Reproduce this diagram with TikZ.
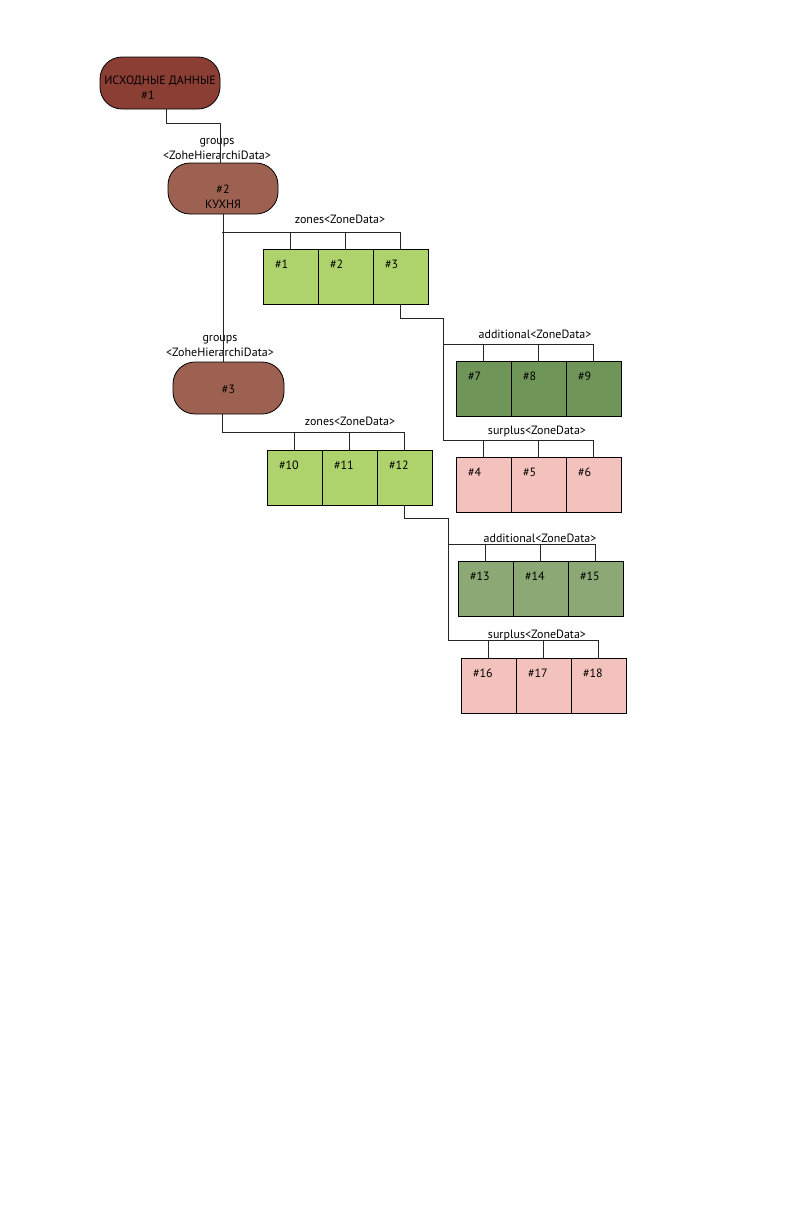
\documentclass[tikz,border=0pt]{standalone}
\usepackage{fontspec}
\setmainfont{PT Sans}
\usetikzlibrary{positioning,calc}
\definecolor{srcbrown}{HTML}{8B3E33}
\definecolor{grpbrown}{HTML}{9C6150}
\definecolor{zonegreen}{HTML}{AED36C}
\definecolor{addgreen}{HTML}{6F9658}
\definecolor{addgreenlt}{HTML}{8CA874}
\definecolor{surpink}{HTML}{F4C2BD}

\begin{document}
\begin{tikzpicture}[x=1pt,y=-1pt,every node/.style={font=\fontsize{12pt}{15pt}\selectfont}]
  \tikzstyle{grp}=[rectangle,rounded corners=22pt,draw=black,line width=0.8pt,fill=grpbrown,minimum width=110pt,minimum height=51pt,align=center,inner sep=0pt]
  \tikzstyle{zone}=[rectangle,draw=black,line width=0.8pt,fill=zonegreen,minimum width=55pt,inner xsep=12pt,inner ysep=0pt,text width=31pt,align=left,text height=19pt,text depth=36pt]
  \tikzstyle{tag}=[inner sep=0pt,align=center]
  \tikzstyle{wire}=[draw=black!85,line width=0.8pt]
  \useasboundingbox (0,0) rectangle (792,1224);
  \coordinate (o) at (0,0);

  % groups
  \draw (o)++(160,83) node[grp,fill=srcbrown,minimum width=120pt,minimum height=52pt] (n1){\rule{0pt}{17pt}ИСХОДНЫЕ ДАННЫЕ\\\#1\hspace*{24pt}};
  \draw (o)++(223,188.5) node[grp] (n2){\rule{0pt}{26pt}\#2\\КУХНЯ};
  \draw (o)++(228.5,388) node[grp,minimum width=111pt,minimum height=52pt] (n3){\rule{0pt}{12pt}\#3};

  \draw (o)++(217,148.5) node[tag] (g1){groups\\<ZoheHierarchiData>};
  \draw (o)++(220,345.5) node[tag] (g2){groups\\<ZoheHierarchiData>};

  % zones of #2
  \draw (o)++(290.5,276.5) node[zone] (z1){\#1};
  \draw (o)++(345.5,276.5) node[zone] (z2){\#2};
  \draw (o)++(400.5,276.5) node[zone] (z3){\#3};
  \draw (o)++(340,219) node[tag] (lz1){zones<ZoneData>};

  \draw (o)++(483.5,388.5) node[zone,fill=addgreen] (a7){\#7};
  \draw (o)++(538.5,388.5) node[zone,fill=addgreen] (a8){\#8};
  \draw (o)++(593.5,388.5) node[zone,fill=addgreen] (a9){\#9};
  \draw (o)++(535,334) node[tag] (la1){additional<ZoneData>};

  \draw (o)++(483.5,484.5) node[zone,fill=surpink] (s4){\#4};
  \draw (o)++(538.5,484.5) node[zone,fill=surpink] (s5){\#5};
  \draw (o)++(593.5,484.5) node[zone,fill=surpink] (s6){\#6};
  \draw (o)++(537,431) node[tag] (ls1){surplus<ZoneData>};

  % zones of #3
  \draw (o)++(294.5,477.5) node[zone] (z10){\#10};
  \draw (o)++(349.5,477.5) node[zone] (z11){\#11};
  \draw (o)++(404.5,477.5) node[zone] (z12){\#12};
  \draw (o)++(350,421) node[tag] (lz2){zones<ZoneData>};

  \draw (o)++(485.5,588.5) node[zone,fill=addgreenlt] (a13){\#13};
  \draw (o)++(540.5,588.5) node[zone,fill=addgreenlt] (a14){\#14};
  \draw (o)++(595.5,588.5) node[zone,fill=addgreenlt] (a15){\#15};
  \draw (o)++(540,538) node[tag] (la2){additional<ZoneData>};

  \draw (o)++(488.5,685.5) node[zone,fill=surpink] (s16){\#16};
  \draw (o)++(543.5,685.5) node[zone,fill=surpink] (s17){\#17};
  \draw (o)++(598.5,685.5) node[zone,fill=surpink] (s18){\#18};
  \draw (o)++(537,635) node[tag] (ls2){surplus<ZoneData>};

  % buses
  \coordinate (b1) at (222,232);
  \coordinate (b2) at (222.5,432);
  \coordinate (e1) at (443,344);
  \coordinate (f1) at (443,440);
  \coordinate (e2) at (448,544);
  \coordinate (f2) at (448,640);

  \draw[wire] ([xshift=6pt]n1.south) -- ++(0,14) -| ([xshift=-3pt]n2.north);
  \draw[wire] (n2.south) -- (n2.south |- n3.north);
  \draw[wire] (b1) -| (z3.north);
  \draw[wire] (b1 -| z1.north) -- (z1.north);
  \draw[wire] (b1 -| z2.north) -- (z2.north);

  \draw[wire] (z3.south) -- ++(0,14) -| (f1) -| (s6.north);
  \draw[wire] (e1) -| (a9.north);
  \draw[wire] (e1 -| a7.north) -- (a7.north);
  \draw[wire] (e1 -| a8.north) -- (a8.north);
  \draw[wire] (f1 -| s4.north) -- (s4.north);
  \draw[wire] (f1 -| s5.north) -- (s5.north);

  \draw[wire] ([xshift=-6pt]n3.south) -- (b2) -| (z12.north);
  \draw[wire] (b2 -| z10.north) -- (z10.north);
  \draw[wire] (b2 -| z11.north) -- (z11.north);

  \draw[wire] (z12.south) -- ++(0,13) -| (f2) -| (s18.north);
  \draw[wire] (e2) -| (a15.north);
  \draw[wire] (e2 -| a13.north) -- (a13.north);
  \draw[wire] (e2 -| a14.north) -- (a14.north);
  \draw[wire] (f2 -| s16.north) -- (s16.north);
  \draw[wire] (f2 -| s17.north) -- (s17.north);
\end{tikzpicture}
\end{document}
